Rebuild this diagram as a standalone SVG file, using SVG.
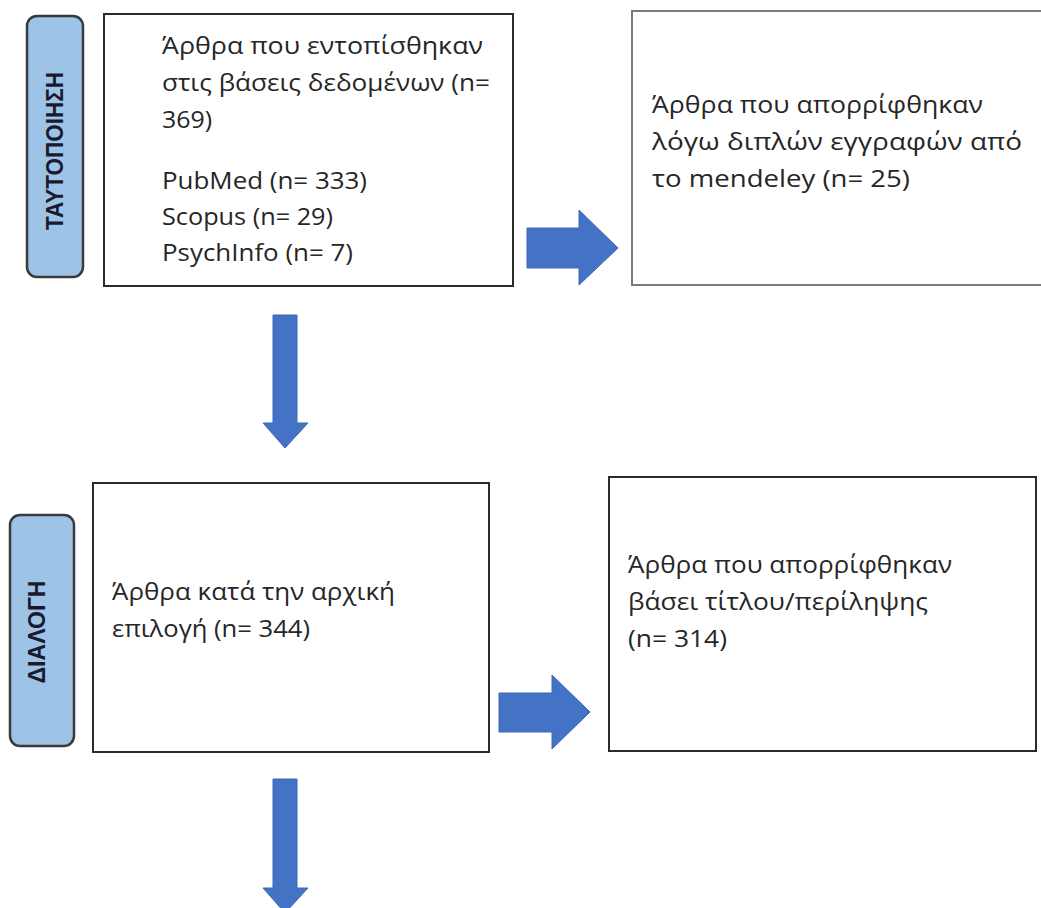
<svg xmlns="http://www.w3.org/2000/svg" width="1041" height="908" viewBox="0 0 1041 908">
<style>
.box{fill:#fff;stroke:#2b2b2b;stroke-width:2}
.box2{fill:#fff;stroke:#7a7a7a;stroke-width:2}
.stage{fill:#9dc3e6;stroke:#3a3a3a;stroke-width:2.5}
.t{font-family:"Open Sans","Noto Sans","DejaVu Sans",sans-serif;font-size:23px;fill:#262626}
.lab{font-family:"Liberation Sans","Arial",sans-serif;font-weight:bold;font-size:23px;fill:#1a1a2e}
.arr{fill:#4472c4;stroke:#3d68b5;stroke-width:1}
</style>
<rect width="1041" height="908" fill="#fff"/>
<g id="stage-identification">
<rect class="stage" x="27" y="16" width="56" height="261" rx="10"/>
<text class="lab" transform="translate(63,151) rotate(-90)" text-anchor="middle" textLength="158" lengthAdjust="spacingAndGlyphs">ΤΑΥΤΟΠΟΙΗΣΗ</text>
</g>
<g id="stage-screening">
<rect class="stage" x="10" y="515" width="64" height="231" rx="10"/>
<text class="lab" transform="translate(45,632) rotate(-90)" text-anchor="middle" textLength="103" lengthAdjust="spacingAndGlyphs">ΔΙΑΛΟΓΗ</text>
</g>
<g id="identified">
<rect class="box" x="104" y="14" width="409" height="272"/>
<text class="t" x="162" y="54" textLength="321" lengthAdjust="spacingAndGlyphs">Άρθρα που εντοπίσθηκαν</text>
<text class="t" x="162" y="91" textLength="328" lengthAdjust="spacingAndGlyphs">στις βάσεις δεδομένων (n=</text>
<text class="t" x="162" y="128" textLength="50" lengthAdjust="spacingAndGlyphs">369)</text>
<text class="t" x="162" y="189" textLength="205" lengthAdjust="spacingAndGlyphs">PubMed (n= 333)</text>
<text class="t" x="162" y="225" textLength="171" lengthAdjust="spacingAndGlyphs">Scopus (n= 29)</text>
<text class="t" x="162" y="261" textLength="191" lengthAdjust="spacingAndGlyphs">PsychInfo (n= 7)</text>
</g>
<g id="duplicates">
<rect class="box2" x="632" y="11" width="420" height="274"/>
<text class="t" x="652" y="113" textLength="331" lengthAdjust="spacingAndGlyphs">Άρθρα που απορρίφθηκαν</text>
<text class="t" x="652" y="150" textLength="370" lengthAdjust="spacingAndGlyphs">λόγω διπλών εγγραφών από</text>
<text class="t" x="652" y="187" textLength="258" lengthAdjust="spacingAndGlyphs">το mendeley (n= 25)</text>
</g>
<g id="screened">
<rect class="box" x="93" y="483" width="396" height="269"/>
<text class="t" x="112" y="600" textLength="283" lengthAdjust="spacingAndGlyphs">Άρθρα κατά την αρχική</text>
<text class="t" x="112" y="637" textLength="198" lengthAdjust="spacingAndGlyphs">επιλογή (n= 344)</text>
</g>
<g id="excluded">
<rect class="box" x="609" y="477" width="427" height="274"/>
<text class="t" x="628" y="573" textLength="324" lengthAdjust="spacingAndGlyphs">Άρθρα που απορρίφθηκαν</text>
<text class="t" x="628" y="610" textLength="300" lengthAdjust="spacingAndGlyphs">βάσει τίτλου/περίληψης</text>
<text class="t" x="628" y="647" textLength="99" lengthAdjust="spacingAndGlyphs">(n= 314)</text>
</g>
<g id="connectors">
<polygon class="arr" points="527,228 579,228 579,210 618,248 579,285 579,268 527,268"/>
<polygon class="arr" points="499,693 552,693 552,675 590,712 552,749 552,732 499,732"/>
<polygon class="arr" points="273,315 297,315 297,423 308,423 285,448 263,423 273,423"/>
<polygon class="arr" points="273,779 297,779 297,888 308,888 285,913 263,888 273,888"/>
</g>
</svg>
